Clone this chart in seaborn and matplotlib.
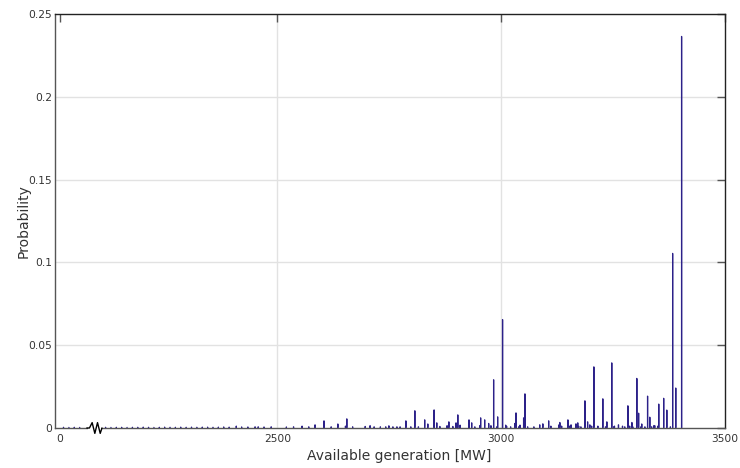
import numpy as np
import pandas as pd
import matplotlib
matplotlib.use("Agg")
import matplotlib.pyplot as plt
import matplotlib.transforms as mtransforms
from matplotlib.patches import Rectangle
import seaborn as sns

# Available generation levels [MW] and their probabilities
gen_mw = [
    2408, 2450, 2457, 2555, 2584, 2604, 2635, 2652, 2655, 2696,
    2707, 2730, 2749, 2758, 2767, 2774, 2787, 2798, 2807, 2815,
    2829, 2836, 2850, 2856, 2863, 2879, 2883, 2892, 2899, 2903,
    2908, 2928, 2934, 2941, 2952, 2954, 2963, 2972, 2977, 2983,
    2990, 2992, 3003, 3010, 3012, 3021, 3030, 3033, 3039, 3042,
    3050, 3053, 3059, 3073, 3086, 3093, 3106, 3111, 3129, 3131,
    3135, 3149, 3153, 3156, 3167, 3171, 3173, 3178, 3187, 3193,
    3198, 3202, 3207, 3216, 3227, 3233, 3236, 3247, 3251, 3253,
    3262, 3271, 3276, 3283, 3287, 3292, 3294, 3303, 3307, 3312,
    3314, 3321, 3327, 3332, 3336, 3341, 3343, 3350, 3352, 3363,
    3370, 3378, 3383, 3390, 3403,
]
gen_prob = [
    0.0012, 0.0008, 0.0008, 0.0012, 0.0020, 0.0044, 0.0025, 0.0012, 0.0056, 0.0010,
    0.0015, 0.0008, 0.0014, 0.0008, 0.0008, 0.0008, 0.0044, 0.0008, 0.0105, 0.0008,
    0.0050, 0.0025, 0.0110, 0.0032, 0.0010, 0.0015, 0.0038, 0.0010, 0.0032, 0.0080,
    0.0018, 0.0050, 0.0032, 0.0008, 0.0015, 0.0062, 0.0050, 0.0028, 0.0015, 0.0292,
    0.0008, 0.0068, 0.0655, 0.0018, 0.0012, 0.0008, 0.0028, 0.0092, 0.0008, 0.0018,
    0.0062, 0.0207, 0.0008, 0.0008, 0.0020, 0.0026, 0.0044, 0.0012, 0.0020, 0.0034,
    0.0012, 0.0050, 0.0012, 0.0020, 0.0026, 0.0032, 0.0012, 0.0008, 0.0165, 0.0038,
    0.0020, 0.0012, 0.0370, 0.0012, 0.0177, 0.0008, 0.0038, 0.0394, 0.0008, 0.0012,
    0.0020, 0.0012, 0.0008, 0.0135, 0.0012, 0.0034, 0.0008, 0.0300, 0.0090, 0.0008,
    0.0025, 0.0008, 0.0193, 0.0066, 0.0008, 0.0015, 0.0015, 0.0012, 0.0145, 0.0180,
    0.0109, 0.0008, 0.1055, 0.0242, 0.2365,
]

# Low-probability tail near the bottom of the range
tail_mw = [
    2022, 2034, 2046, 2058, 2116, 2128, 2140, 2152, 2164, 2176,
    2188, 2200, 2212, 2224, 2236, 2248, 2260, 2272, 2284, 2296,
    2308, 2320, 2332, 2344, 2356, 2368, 2380, 2392, 2420, 2434,
    2470, 2486, 2520, 2536, 2570, 2620, 2668, 2716, 2742,
]
tail_prob = [
    0.0005, 0.0004, 0.0005, 0.0004, 0.0005, 0.0004, 0.0005, 0.0005, 0.0004, 0.0005,
    0.0005, 0.0006, 0.0005, 0.0004, 0.0005, 0.0006, 0.0005, 0.0005, 0.0006, 0.0005,
    0.0006, 0.0005, 0.0006, 0.0006, 0.0005, 0.0006, 0.0007, 0.0006, 0.0007, 0.0007,
    0.0007, 0.0008, 0.0007, 0.0008, 0.0008, 0.0008, 0.0008, 0.0008, 0.0008,
]

x_ticks = [2014, 2500, 3000, 3500]
x_tick_labels = ["0", "2500", "3000", "3500"]
y_ticks = [0, 0.05, 0.1, 0.15, 0.2, 0.25]
y_tick_labels = ["0", "0.05", "0.1", "0.15", "0.2", "0.25"]

df = pd.DataFrame({
    "mw": gen_mw + tail_mw,
    "prob": gen_prob + tail_prob,
}).sort_values("mw")

sns.set_style("white")
plt.rcParams["font.family"] = ["DejaVu Sans"]

bar_color = "#2c2189"
fig = plt.figure(figsize=(7.4, 4.68), dpi=100)
ax = fig.add_axes([55 / 740, 40 / 468, 670 / 740, 414 / 468])

# light grid drawn underneath the bars
for gx in [2500, 3000]:
    ax.axvline(gx, color="#e2e2e2", lw=1.0, zorder=0)
for gy in [0.05, 0.1, 0.15, 0.2]:
    ax.axhline(gy, color="#e2e2e2", lw=1.0, zorder=0)

# hairline-width bars: the visible stroke comes from the edge line
sns.barplot(data=df, x="mw", y="prob", native_scale=True, width=0.02,
            color=bar_color, edgecolor=bar_color, linewidth=0.9,
            errorbar=None, saturation=1, ax=ax, zorder=2)
for p in ax.patches:
    p.set_snap(False)

ax.set_xlim(2003, 3500)
ax.set_ylim(0, 0.25)
ax.set_xticks(x_ticks, labels=x_tick_labels)
ax.set_yticks(y_ticks, labels=y_tick_labels)

ax.tick_params(axis="both", direction="in", length=6, width=1,
               labelsize=7.7, labelcolor="#333333", color="#555555",
               top=True, right=True)
ax.tick_params(axis="x", pad=4)
ax.tick_params(axis="y", pad=2)

for side in ["left", "bottom"]:
    ax.spines[side].set_color("#555555")
    ax.spines[side].set_linewidth(1.0)
for side in ["top", "right"]:
    ax.spines[side].set_color("#222222")
    ax.spines[side].set_linewidth(1.0)

ax.set_xlabel("Available generation [MW]", fontsize=10, color="#333333")
ax.set_ylabel("Probability", fontsize=10, color="#333333")
ax.xaxis.set_label_coords(0.513, -0.05)
ax.yaxis.set_label_coords(-0.036, 0.5)

# axis break marker on the bottom spine
trans = mtransforms.blended_transform_factory(ax.transData, ax.transAxes)
ax.add_patch(Rectangle((2076, -0.015), 30, 0.03, transform=trans,
                       facecolor="white", edgecolor="none",
                       clip_on=False, zorder=5))
zx = [2074, 2080, 2086, 2092, 2098, 2104, 2108]
zy = [0.0, 0.0, 0.013, -0.013, 0.013, -0.013, 0.0]
ax.plot(zx, zy, color="black", lw=1.0, transform=trans,
        clip_on=False, zorder=6)

fig.savefig("out.png", dpi=100)
